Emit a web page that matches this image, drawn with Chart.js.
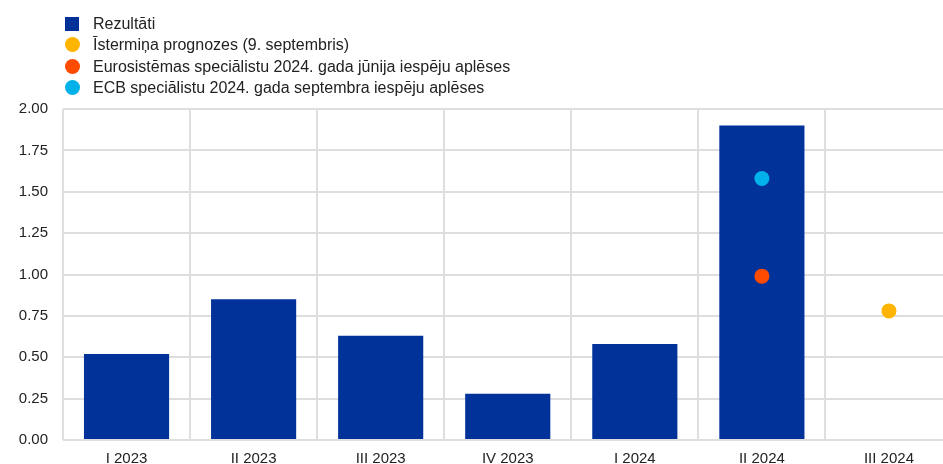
<!DOCTYPE html>
<html>
<head>
<meta charset="utf-8">
<script src="https://cdn.jsdelivr.net/npm/chart.js@4/dist/chart.umd.min.js"></script>
<style>
  html, body { margin: 0; padding: 0; overflow: hidden; background: #fff; }
  #wrap { position: relative; width: 960px; height: 464px; }
  #legend { position: absolute; left: 65px; top: 13px; font-family: Arial, "Liberation Sans", sans-serif; font-size: 16px; color: #222; }
  #legend .item { height: 21.3px; line-height: 21.3px; white-space: nowrap; position: relative; padding-left: 28px; }
  #legend .mark { position: absolute; left: 0; top: 3.5px; width: 14px; height: 14px; }
</style>
</head>
<body>
<div id="wrap">
  <canvas id="chart" width="960" height="464"></canvas>
  <div id="legend"></div>
</div>
<script>
var categories = ["I 2023", "II 2023", "III 2023", "IV 2023", "I 2024", "II 2024", "III 2024"];
var results = [0.52, 0.85, 0.63, 0.28, 0.58, 1.90, null];
var nowcast = [null, null, null, null, null, null, 0.78];
var juneProjections = [null, null, null, null, null, 0.99, null];
var septProjections = [null, null, null, null, null, 1.58, null];
var yTicks = [0, 0.25, 0.5, 0.75, 1, 1.25, 1.5, 1.75, 2];

var labels = [
    "Rezultāti",
    "Īstermiņa prognozes (9. septembris)",
    "Eurosistēmas speciālistu 2024. gada jūnija iespēju aplēses",
    "ECB speciālistu 2024. gada septembra iespēju aplēses"
];
var colors = ["#003299", "#ffb400", "#ff4b00", "#00b1ea"];

Chart.defaults.font.family = "Arial, 'Liberation Sans', sans-serif";
Chart.defaults.font.size = 15;
Chart.defaults.color = "#222";

function dots(label, data, color) {
    return {
        type: "line",
        label: label,
        data: data,
        showLine: false,
        pointRadius: 7.5,
        pointHoverRadius: 7.5,
        pointBorderWidth: 0,
        backgroundColor: color,
        borderColor: color,
        order: 1
    };
}

var ctx = document.getElementById("chart");
new Chart(ctx, {
    type: "bar",
    data: {
        labels: categories,
        datasets: [
            {
                label: labels[0],
                data: results,
                backgroundColor: colors[0],
                categoryPercentage: 1,
                barPercentage: 0.67,
                order: 2
            },
            dots(labels[1], nowcast, colors[1]),
            dots(labels[2], juneProjections, colors[2]),
            dots(labels[3], septProjections, colors[3])
        ]
    },
    options: {
        responsive: false,
        animation: false,
        layout: { padding: { top: 109, right: 6, left: 0, bottom: 0 } },
        plugins: {
            legend: { display: false },
            tooltip: { enabled: false }
        },
        scales: {
            x: {
                offset: true,
                afterFit: function(scale) { scale.height = 24; },
                grid: { color: "#dedede", lineWidth: 2, drawTicks: false, offset: true },
                border: { display: false },
                ticks: { padding: 10, maxRotation: 0 }
            },
            y: {
                min: 0,
                max: 2,
                afterBuildTicks: function(scale) {
                    scale.ticks = yTicks.map(function(v) { return { value: v }; });
                },
                afterFit: function(scale) { scale.width = 63; },
                grid: { color: "#dedede", lineWidth: 2, drawTicks: false },
                border: { display: false },
                ticks: {
                    padding: 15,
                    callback: function(v) { return Number(v).toFixed(2); }
                }
            }
        }
    }
});

// legend, one entry per line
var legend = document.getElementById("legend");
for (var i = 0; i < labels.length; i++) {
    var item = document.createElement("div");
    item.className = "item";
    var mark = document.createElement("span");
    mark.className = "mark";
    mark.style.background = colors[i];
    if (i > 0) {
        mark.style.borderRadius = "50%";
        mark.style.width = "15px";
        mark.style.height = "15px";
        mark.style.top = "3px";
    }
    item.appendChild(mark);
    item.appendChild(document.createTextNode(labels[i]));
    legend.appendChild(item);
}
</script>
</body>
</html>
